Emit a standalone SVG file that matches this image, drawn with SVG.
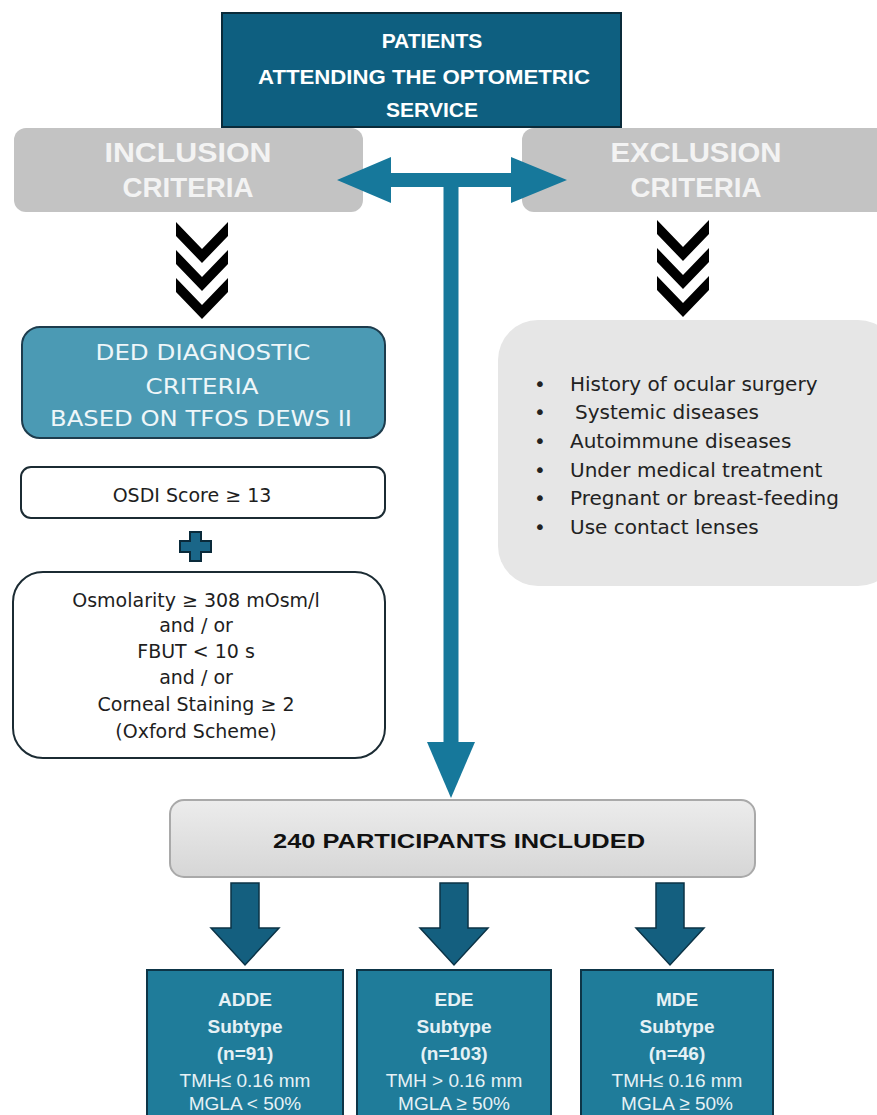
<svg xmlns="http://www.w3.org/2000/svg" width="877" height="1115" viewBox="0 0 877 1115">
<defs>
<style>
.sans{font-family:"Liberation Sans",Arial,sans-serif}
.hdr{font-family:"Liberation Sans",Arial,sans-serif;font-weight:bold;fill:#ffffff;text-anchor:middle}
.gray{fill:#c3c3c3}
.grayt{font-family:"Liberation Sans",Arial,sans-serif;font-weight:bold;font-size:28px;fill:#f3f3f3;text-anchor:middle}
.chev{fill:#000000}
.wbox{fill:#ffffff;stroke:#1b2b33;stroke-width:2}
.dark{font-family:"DejaVu Sans","Liberation Sans",sans-serif;fill:#1e1e1e;text-anchor:middle;font-size:19px}
.excl{font-family:"DejaVu Sans","Liberation Sans",sans-serif;fill:#222222;font-size:20px}
.dedt{font-family:"DejaVu Sans","Liberation Sans",sans-serif;font-size:22px;fill:#eef6f9;text-anchor:middle}
.sub{fill:#1f7c9a;stroke:#0d3547;stroke-width:2}
.subt{font-family:"Liberation Sans",Arial,sans-serif;fill:#e6f1f5;text-anchor:middle;font-size:19px}
.subb{font-weight:bold}
.conn{fill:#16789b}
.barrow{fill:#145f7f;stroke:#0b3346;stroke-width:1.5}
</style>
<linearGradient id="g240" x1="0" y1="0" x2="0" y2="1">
<stop offset="0" stop-color="#ececec"/>
<stop offset="1" stop-color="#d6d6d6"/>
</linearGradient>
<path id="chevron" d="M-26,0 L0,27 L26,0 L26,14 L0,41 L-26,14 Z"/>
</defs>
<rect width="877" height="1115" fill="#ffffff"/>

<g id="node-inclusion">
<rect class="gray" x="14" y="128" width="349" height="84" rx="12"/>
<text class="grayt" x="188" y="162" textLength="167" lengthAdjust="spacingAndGlyphs">INCLUSION</text>
<text class="grayt" x="188" y="197" textLength="131" lengthAdjust="spacingAndGlyphs">CRITERIA</text>
</g>

<g id="node-exclusion">
<rect class="gray" x="522" y="128" width="370" height="84" rx="12"/>
<text class="grayt" x="696" y="162" textLength="171" lengthAdjust="spacingAndGlyphs">EXCLUSION</text>
<text class="grayt" x="696" y="197" textLength="131" lengthAdjust="spacingAndGlyphs">CRITERIA</text>
</g>

<g id="node-patients">
<rect x="222" y="13" width="399" height="114" fill="#0e5f80" stroke="#0a2b3a" stroke-width="2"/>
<text class="hdr" x="432" y="48" font-size="21">PATIENTS</text>
<text class="hdr" x="424" y="84" font-size="21" textLength="332" lengthAdjust="spacingAndGlyphs">ATTENDING THE OPTOMETRIC</text>
<text class="hdr" x="432" y="117" font-size="21">SERVICE</text>
</g>

<g id="connectors">
<polygon class="conn" points="337,180 391,157 391,173 511,173 511,157 567,180 511,203 511,187 391,187 391,203"/>
<rect class="conn" x="443.5" y="180" width="15" height="565"/>
<polygon class="conn" points="427,742 475,742 451,798"/>
<g id="chevrons-left">
<use href="#chevron" class="chev" x="202" y="222"/>
<use href="#chevron" class="chev" x="202" y="250"/>
<use href="#chevron" class="chev" x="202" y="278"/>
</g>
<g id="chevrons-right">
<use href="#chevron" class="chev" x="683" y="220"/>
<use href="#chevron" class="chev" x="683" y="248"/>
<use href="#chevron" class="chev" x="683" y="276"/>
</g>
<polygon class="barrow" points="231,883 259,883 259,928 279,928 245,965 211,928 231,928"/>
<polygon class="barrow" points="440,883 468,883 468,928 488,928 454,965 420,928 440,928"/>
<polygon class="barrow" points="656,883 684,883 684,928 704,928 670,965 636,928 656,928"/>
</g>

<g id="node-ded">
<rect x="22" y="327" width="363" height="111" rx="18" fill="#4b9ab4" stroke="#1d3c4d" stroke-width="2"/>
<text class="dedt" x="203" y="360" textLength="215" lengthAdjust="spacingAndGlyphs">DED DIAGNOSTIC</text>
<text class="dedt" x="202" y="394" textLength="113" lengthAdjust="spacingAndGlyphs">CRITERIA</text>
<text class="dedt" x="201" y="426" textLength="302" lengthAdjust="spacingAndGlyphs">BASED ON TFOS DEWS II</text>
</g>

<g id="node-osdi">
<rect class="wbox" x="21" y="467" width="364" height="51" rx="10"/>
<text class="dark" x="192" y="502">OSDI Score ≥ 13</text>
</g>

<g id="node-plus">
<path d="M190,532 h11 v9 h10 v11 h-10 v9 h-11 v-9 h-10 v-11 h10 Z" fill="#1a6688" stroke="#0a2a3a" stroke-width="2"/>
</g>

<g id="node-criteria">
<rect class="wbox" x="13" y="572" width="372" height="186" rx="30"/>
<text class="dark" x="196" y="607">Osmolarity ≥ 308 mOsm/l</text>
<text class="dark" x="196" y="632">and / or</text>
<text class="dark" x="196" y="658">FBUT &lt; 10 s</text>
<text class="dark" x="196" y="684">and / or</text>
<text class="dark" x="196" y="711">Corneal Staining ≥ 2</text>
<text class="dark" x="196" y="738">(Oxford Scheme)</text>
</g>

<g id="node-exclusion-list">
<rect x="498" y="320" width="400" height="266" rx="40" fill="#e6e6e6"/>
<g class="excl">
<text x="534" y="391">•</text>
<text x="570" y="391">History of ocular surgery</text>
<text x="534" y="419">•</text>
<text x="575" y="419">Systemic diseases</text>
<text x="534" y="448">•</text>
<text x="570" y="448">Autoimmune diseases</text>
<text x="534" y="477">•</text>
<text x="570" y="477">Under medical treatment</text>
<text x="534" y="505">•</text>
<text x="570" y="505">Pregnant or breast-feeding</text>
<text x="534" y="534">•</text>
<text x="570" y="534">Use contact lenses</text>
</g>
</g>

<g id="node-240">
<rect x="170" y="800" width="585" height="77" rx="14" fill="url(#g240)" stroke="#a9a9a9" stroke-width="2"/>
<text class="sans" x="459" y="848" font-size="21" font-weight="bold" fill="#111111" text-anchor="middle" textLength="372" lengthAdjust="spacingAndGlyphs">240 PARTICIPANTS INCLUDED</text>
</g>

<g id="node-adde">
<rect class="sub" x="147" y="970" width="196" height="160"/>
<text class="subt subb" x="245" y="1006">ADDE</text>
<text class="subt subb" x="245" y="1033">Subtype</text>
<text class="subt subb" x="245" y="1060">(n=91)</text>
<text class="subt" x="245" y="1087">TMH≤ 0.16 mm</text>
<text class="subt" x="245" y="1110">MGLA &lt; 50%</text>
</g>

<g id="node-ede">
<rect class="sub" x="357" y="970" width="194" height="160"/>
<text class="subt subb" x="454" y="1006">EDE</text>
<text class="subt subb" x="454" y="1033">Subtype</text>
<text class="subt subb" x="454" y="1060">(n=103)</text>
<text class="subt" x="454" y="1087">TMH &gt; 0.16 mm</text>
<text class="subt" x="454" y="1110">MGLA  ≥  50%</text>
</g>

<g id="node-mde">
<rect class="sub" x="581" y="970" width="192" height="160"/>
<text class="subt subb" x="677" y="1006">MDE</text>
<text class="subt subb" x="677" y="1033">Subtype</text>
<text class="subt subb" x="677" y="1060">(n=46)</text>
<text class="subt" x="677" y="1087">TMH≤ 0.16 mm</text>
<text class="subt" x="677" y="1110">MGLA  ≥  50%</text>
</g>
</svg>
